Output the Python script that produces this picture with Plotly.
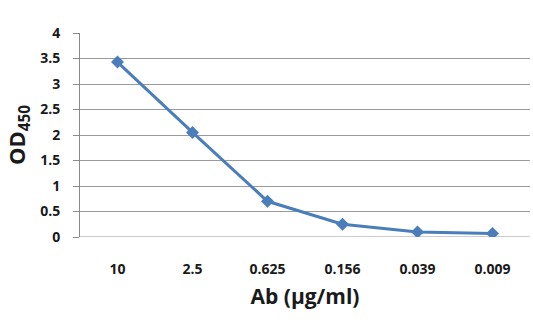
import plotly.graph_objects as go

# Antibody dilution series and measured optical density
concentrations = ["10", "2.5", "0.625", "0.156", "0.039", "0.009"]
od450 = [3.43, 2.05, 0.70, 0.25, 0.10, 0.07]
y_ticks = [0, 0.5, 1, 1.5, 2, 2.5, 3, 3.5, 4]

line_color = "#4a7ebb"
font_family = "'Open Sans', sans-serif"
text_color = "#1a1a1a"

fig = go.Figure(
    go.Scatter(
        x=concentrations,
        y=od450,
        mode="lines+markers",
        line=dict(color=line_color, width=3),
        marker=dict(symbol="diamond", size=10, color=line_color),
        showlegend=False,
    )
)

fig.update_layout(
    width=533,
    height=328,
    margin=dict(l=80, r=3, t=33, b=91),
    paper_bgcolor="white",
    plot_bgcolor="white",
    font=dict(family=font_family, color=text_color),
)

fig.update_xaxes(
    type="category",
    range=[-0.5, 5.5],
    showgrid=False,
    showline=False,
    zeroline=False,
    ticks="outside",
    ticklen=19,
    tickcolor="rgba(0,0,0,0)",
    tickfont=dict(size=14, family=font_family, weight="bold", color=text_color),
    title=dict(
        text="Ab (µg/ml)",
        font=dict(size=21, family=font_family, weight="bold", color=text_color),
        standoff=12,
    ),
)

fig.update_yaxes(
    range=[0, 4],
    tickvals=y_ticks,
    ticktext=[f"{v:g}" for v in y_ticks],
    showgrid=True,
    gridcolor="#9a9a9a",
    gridwidth=1,
    showline=True,
    linecolor="#8a8a8a",
    linewidth=1,
    zeroline=False,
    ticks="outside",
    ticklen=6,
    tickcolor="#8a8a8a",
    ticklabelstandoff=10,
    tickfont=dict(size=14, family=font_family, weight="bold", color=text_color),
    title=dict(
        text="OD<sub>450</sub>",
        font=dict(size=22, family=font_family, weight="bold", color=text_color),
        standoff=8,
    ),
)

# Bottom boundary gridline at zero
fig.add_shape(
    type="line", xref="paper", yref="y", x0=0, x1=1, y0=0, y1=0,
    line=dict(color="#9a9a9a", width=1), layer="below",
)

fig.write_html("out.html")
